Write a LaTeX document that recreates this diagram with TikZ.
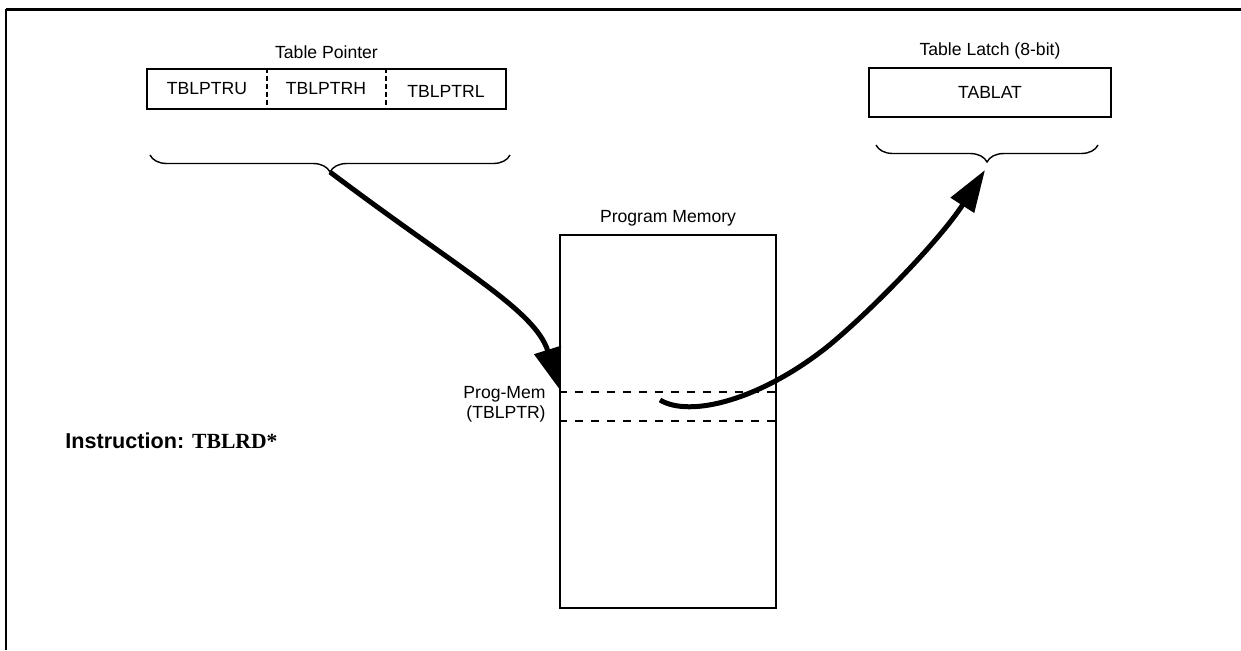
\documentclass[tikz,border=0pt]{standalone}
\usepackage{fontspec}
\setmainfont{Liberation Sans}
\newfontfamily\serifbf{Liberation Serif}
\usepackage{tikz}
\usetikzlibrary{arrows.meta,decorations.pathreplacing,calc}
\tikzstyle{regbox}=[draw, line width=1pt, inner sep=0pt]
\tikzstyle{cell}=[inner sep=0pt, minimum height=20pt]
\tikzstyle{cellsep}=[line width=1pt, dash pattern=on 2.5pt off 1.5pt]
\tikzstyle{rowsep}=[line width=0.8pt, dash pattern=on 4pt off 4pt]
\tikzstyle{brc}=[decorate, decoration={brace,mirror,amplitude=8.5pt}, line width=0.7pt]
\tikzstyle{flow}=[-{Triangle[length=21pt,width=13.5pt]}, line width=2.5pt]

\begin{document}
\begin{tikzpicture}[x=0.5pt,y=-0.5pt,font=\fontsize{8.8}{10}\selectfont]
\useasboundingbox (0,0) rectangle (1241,650);
% frame
\draw[line width=1.5pt] (1241,9) -- (6,9);
\draw[line width=1pt] (6,9) -- (6,650);
% table pointer
\node[regbox,minimum width=179.5pt,minimum height=20pt,label={[label distance=1pt]above:{Table Pointer}}] (ptr) at (326.5,88.5) {};
\node[cell,minimum width=60pt] (ptru) at (207,88.5) {TBLPTRU};
\node[cell,minimum width=59.5pt] (ptrh) at (326,88.5) {TBLPTRH};
\node[cell,minimum width=60pt] (ptrl) at (446,91.5) {TBLPTRL};
\draw[cellsep] (ptr.north -| 267,0) -- (ptr.south -| 267,0);
\draw[cellsep] (ptr.north -| 386,0) -- (ptr.south -| 386,0);
% table latch
\node[regbox,minimum width=121pt,minimum height=24.5pt,label={[label distance=0.5pt]above:{Table Latch (8-bit)}}] (lat) at (990,92.5) {TABLAT};
% braces
\draw[brc] (150,155) -- (510,155);
\draw[brc] (876,145) -- (1098,145);
\coordinate (ptrtip) at (330,172);
\coordinate (lattip) at (985,170);
% program memory
\node[regbox,minimum width=108pt,minimum height=186.5pt,label={[label distance=0.5pt]above:{Program Memory}}] (mem) at (668,421.5) {};
\draw[rowsep] (mem.west |- 0,392) -- (mem.east |- 0,392);
\draw[rowsep] (mem.west |- 0,421) -- (mem.east |- 0,421);
\node[align=right,anchor=east,inner sep=0pt] (pm) at (546,404) {Prog-Mem\\(TBLPTR)};
\coordinate (memin) at (560,390);
\coordinate (memout) at (660,400);
% instruction
\node[anchor=west,inner sep=0pt,font=\fontsize{10.8}{12}\selectfont\bfseries] (ins) at (65,441) {Instruction: {\serifbf\bfseries TBLRD*}};
% data flow
\draw[flow] (ptrtip) .. controls (460,270) and (535,310) .. (memin);
\draw[flow] (memout) .. controls (690,418) and (760,400) .. (827,347) .. controls (870,312) and (940,240) .. (lattip);
\end{tikzpicture}
\end{document}
